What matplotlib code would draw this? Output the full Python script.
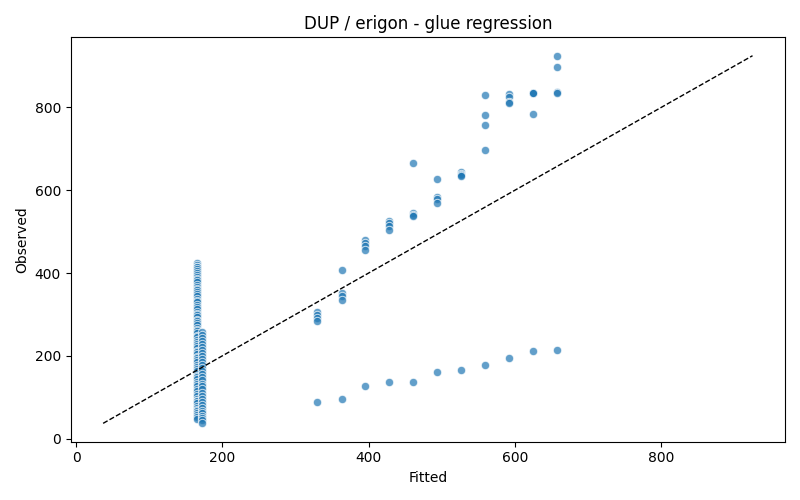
import matplotlib

matplotlib.use("Agg")
import matplotlib.pyplot as plt
import numpy as np

# fitted levels of the right-hand groups
group_fitted = [330, 363, 395, 428, 461, 494, 527, 559, 592, 625, 658]
# observed values at each level (upper cluster)
group_upper = [
    [305, 298, 292, 285],
    [407, 352, 345, 335],
    [480, 472, 465, 456],
    [526, 520, 513, 505],
    [666, 545, 540, 538],
    [628, 583, 578, 570],
    [645, 640, 636, 634],
    [831, 782, 758, 698],
    [833, 826, 812, 810],
    [836, 835, 834, 785],
    [925, 898, 838, 835],
]
# observed values at each level (lower trail)
group_lower = [89, 97, 126, 136, 138, 160, 167, 179, 194, 211, 213]

# the pile near fitted ~166 / ~172
pile_a_x = 166
pile_a_obs = [
    424, 419, 415, 414, 409, 404, 399, 396, 390, 386, 384, 378, 372, 367,
    362, 359, 355, 349, 344, 338, 333, 329, 322, 317, 312, 305, 301, 299,
    293, 287, 283, 280, 274, 268, 262, 259, 255, 249, 245, 239, 234, 229,
    224, 219, 212, 209, 204, 198, 195, 191, 185, 179, 174, 168, 163, 156,
    151, 148, 143, 137, 131, 126, 120, 114, 109, 103, 97, 92, 90, 85, 79,
    74, 70, 66, 61, 56, 52, 48,
]
pile_b_x = 172
pile_b_obs = [
    258, 251, 243, 236, 228, 221, 214, 206, 199, 192, 185, 177, 170, 163,
    155, 148, 141, 133, 126, 119, 111, 104, 97, 89, 82, 75, 68, 61, 55,
    49, 44, 37,
]

fitted = []
observed = []
for fx, ups, low in zip(group_fitted, group_upper, group_lower):
    for v in ups:
        fitted.append(fx)
        observed.append(v)
    fitted.append(fx)
    observed.append(low)
fitted += [pile_a_x] * len(pile_a_obs) + [pile_b_x] * len(pile_b_obs)
observed += pile_a_obs + pile_b_obs
fitted = np.array(fitted, dtype=float)
observed = np.array(observed, dtype=float)

fig, ax = plt.subplots(figsize=(8, 5), dpi=100)
ax.scatter(fitted, observed, s=36, alpha=0.7, color="#1f77b4",
           edgecolors="white", linewidths=0.75)
lo = min(fitted.min(), observed.min())
hi = max(fitted.max(), observed.max())
ax.plot([lo, hi], [lo, hi], "k--", linewidth=1)
ax.set_title("DUP / erigon - glue regression")
ax.set_xlabel("Fitted")
ax.set_ylabel("Observed")
fig.tight_layout()
fig.savefig("out.png", dpi=100)
